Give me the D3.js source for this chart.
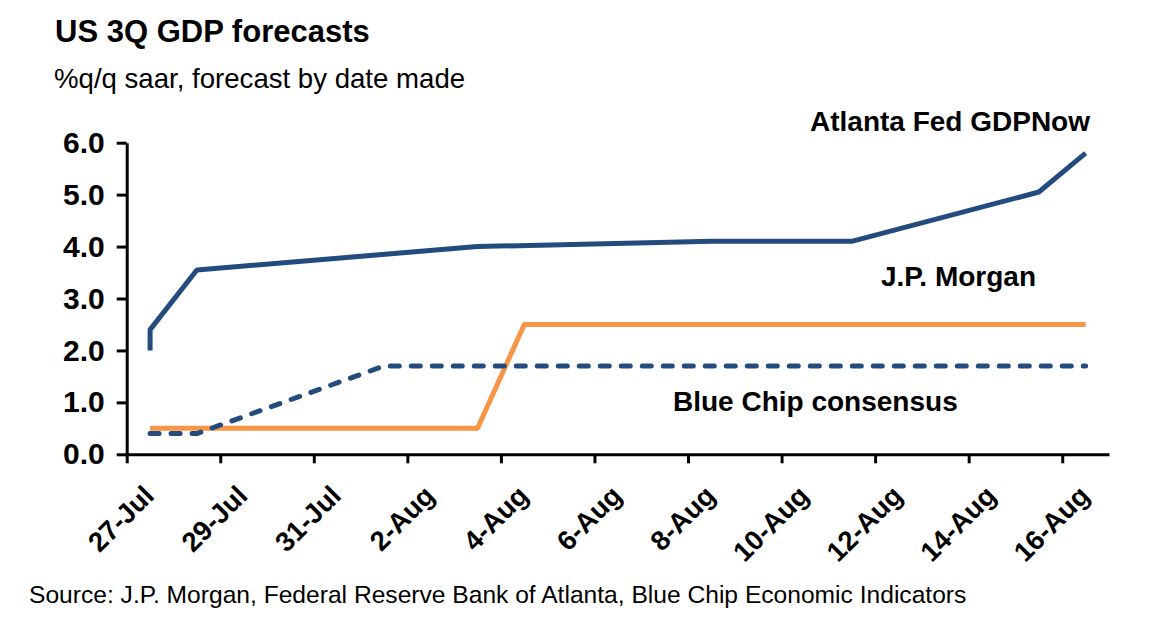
<!DOCTYPE html>
<html>
<head>
<meta charset="utf-8">
<script src="https://cdn.jsdelivr.net/npm/d3@7"></script>
<style>
  html, body { margin: 0; padding: 0; background: #fff; }
  svg { display: block; font-family: "Liberation Sans", Arial, sans-serif; }
</style>
</head>
<body>
<svg id="chart" width="1152" height="623"></svg>
<script>
// ---- data ----
const atlantaDates  = ["2023-07-27","2023-07-27","2023-07-28","2023-08-03","2023-08-08","2023-08-11","2023-08-15","2023-08-16"];
const atlantaValues = [2.0, 2.4, 3.55, 4.0, 4.1, 4.1, 5.05, 5.8];

const jpmDates  = ["2023-07-27","2023-08-03","2023-08-04","2023-08-16"];
const jpmValues = [0.5, 0.5, 2.5, 2.5];

const blueChipDates  = ["2023-07-27","2023-07-28","2023-08-01","2023-08-16"];
const blueChipValues = [0.4, 0.4, 1.7, 1.7];

const xTickDates  = ["2023-07-27","2023-07-29","2023-07-31","2023-08-02","2023-08-04","2023-08-06","2023-08-08","2023-08-10","2023-08-12","2023-08-14","2023-08-16"];
const xTickLabels = ["27-Jul","29-Jul","31-Jul","2-Aug","4-Aug","6-Aug","8-Aug","10-Aug","12-Aug","14-Aug","16-Aug"];
const yTicks = [0, 1, 2, 3, 4, 5, 6];

const seriesLabels = ["Atlanta Fed GDPNow", "J.P. Morgan", "Blue Chip consensus"];

// ---- helpers ----
const parse = d3.timeParse("%Y-%m-%d");
const noon = s => d3.timeHour.offset(parse(s), 12);   // point sits in the middle of its day slot

const svg = d3.select("#chart");
const NAVY = "#244b7e", ORANGE = "#f79646";
const FONT = "'Liberation Sans', Arial, sans-serif";

const x = d3.scaleTime()
  .domain([parse("2023-07-27"), parse("2023-08-17")])
  .range([126.7, 1109]);
const y = d3.scaleLinear().domain([0, 6]).range([454.3, 142.7]);

// ---- titles ----
svg.append("text").attr("x", 55).attr("y", 42)
  .attr("font-size", 31).attr("font-weight", "bold").attr("fill", "#000")
  .text("US 3Q GDP forecasts");
svg.append("text").attr("x", 54).attr("y", 88)
  .attr("font-size", 27.6).attr("fill", "#000")
  .text("%q/q saar, forecast by date made");
svg.append("text").attr("x", 29).attr("y", 603)
  .attr("font-size", 24.6).attr("fill", "#000")
  .text("Source: J.P. Morgan, Federal Reserve Bank of Atlanta, Blue Chip Economic Indicators");

// ---- axes ----
const yAxis = svg.append("g").attr("transform", `translate(${x.range()[0]},0)`)
  .call(d3.axisLeft(y).tickValues(yTicks).tickSize(10).tickSizeOuter(0).tickPadding(12)
        .tickFormat(d3.format(".1f")));
yAxis.select(".domain").attr("stroke", "#000").attr("stroke-width", 3);
yAxis.selectAll(".tick line").attr("stroke", "#000").attr("stroke-width", 3);
yAxis.selectAll(".tick text").attr("font-size", 30).attr("font-weight", "bold")
  .attr("fill", "#000").attr("font-family", FONT);

const xAxis = svg.append("g").attr("transform", `translate(0,${y(0)})`)
  .call(d3.axisBottom(x).tickValues(xTickDates.map(parse)).tickSize(9).tickSizeOuter(0).tickFormat(""));
xAxis.select(".domain").attr("stroke", "#000").attr("stroke-width", 3);
xAxis.selectAll(".tick line").attr("stroke", "#000").attr("stroke-width", 3);

// x labels centred on their day slot, rotated -45
const xLab = svg.append("g").attr("transform", `translate(0,${y(0)})`)
  .call(d3.axisBottom(x).tickValues(xTickDates.map(noon)).tickSize(0)
        .tickFormat((d, i) => xTickLabels[i]));
xLab.select(".domain").remove();
xLab.selectAll(".tick text")
  .attr("font-size", 27.5).attr("font-weight", "bold").attr("fill", "#000")
  .attr("font-family", FONT)
  .attr("text-anchor", "end").attr("dy", null).attr("y", null)
  .attr("transform", "translate(5,43) rotate(-45)");

// ---- lines ----
const line = d3.line().x(d => x(noon(d[0]))).y(d => y(d[1]));

svg.append("path")
  .datum(d3.zip(jpmDates, jpmValues))
  .attr("d", line)
  .attr("fill", "none").attr("stroke", ORANGE).attr("stroke-width", 5)
  .attr("stroke-linejoin", "round");

svg.append("path")
  .datum(d3.zip(blueChipDates, blueChipValues))
  .attr("d", line)
  .attr("fill", "none").attr("stroke", NAVY).attr("stroke-width", 5)
  .attr("stroke-linejoin", "round")
  .attr("stroke-dasharray", "9,12").attr("stroke-linecap", "round");

svg.append("path")
  .datum(d3.zip(atlantaDates, atlantaValues))
  .attr("d", line)
  .attr("fill", "none").attr("stroke", NAVY).attr("stroke-width", 5)
  .attr("stroke-linejoin", "round");

// ---- series labels ----
const lab = svg.append("g").attr("font-size", 28).attr("font-weight", "bold").attr("fill", "#000");
lab.append("text").attr("x", 1090).attr("y", 131).attr("text-anchor", "end").text(seriesLabels[0]);
lab.append("text").attr("x", 1036).attr("y", 286).attr("text-anchor", "end").text(seriesLabels[1]);
lab.append("text").attr("x", 673).attr("y", 411).attr("text-anchor", "start").text(seriesLabels[2]);
</script>
</body>
</html>
